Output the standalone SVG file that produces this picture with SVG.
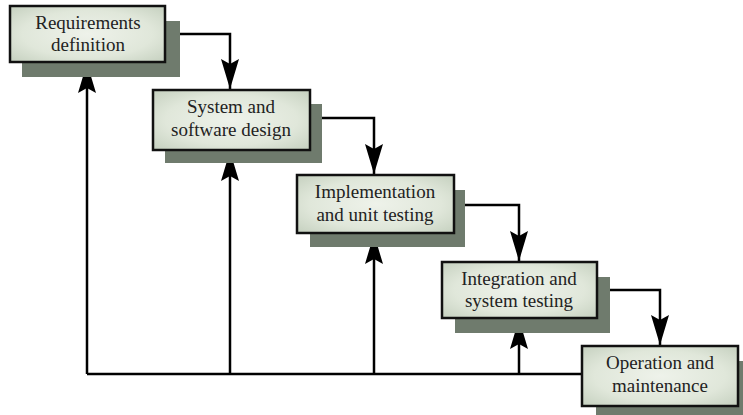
<svg xmlns="http://www.w3.org/2000/svg" width="743" height="415" viewBox="0 0 743 415">
<defs>
<radialGradient id="fillg" cx="0.5" cy="0.5" r="0.7">
<stop offset="0" stop-color="#eef2ea"/>
<stop offset="0.6" stop-color="#e0e7da"/>
<stop offset="1" stop-color="#c5d0bf"/>
</radialGradient>
<marker id="ah" viewBox="0 0 30 18" refX="30" refY="9" markerWidth="30" markerHeight="18" markerUnits="userSpaceOnUse" orient="auto">
<path d="M0,0 L30,9 L0,18 L5,9 Z" fill="#000"/>
</marker>
<style>
.shadow{fill:#6f7b6d}
.box{fill:url(#fillg);stroke:#111;stroke-width:2.5}
.lbl{font-family:"Liberation Serif","Times New Roman",serif;font-size:19px;fill:#222;text-anchor:middle}
.conn{fill:none;stroke:#000;stroke-width:2.5}
</style>
</defs>
<rect width="743" height="415" fill="#fff"/>
<g id="connectors">
<path class="conn" d="M165,34 H230 V89" marker-end="url(#ah)"/>
<path class="conn" d="M310,118 H374 V174" marker-end="url(#ah)"/>
<path class="conn" d="M454,205 H519 V261" marker-end="url(#ah)"/>
<path class="conn" d="M597,290 H660 V345" marker-end="url(#ah)"/>
<path class="conn" d="M582,374 H87"/>
<path class="conn" d="M87,374 V63" marker-end="url(#ah)"/>
<path class="conn" d="M230,374 V151" marker-end="url(#ah)"/>
<path class="conn" d="M374,374 V234" marker-end="url(#ah)"/>
<path class="conn" d="M519,374 V319" marker-end="url(#ah)"/>
</g>
<g id="n1">
<rect class="shadow" x="22" y="21" width="158" height="56"/>
<rect class="box" x="10" y="6" width="155" height="56"/>
<text class="lbl" x="88" y="29">Requirements</text>
<text class="lbl" x="88" y="51">definition</text>
</g>
<g id="n2">
<rect class="shadow" x="165" y="104" width="157" height="59"/>
<rect class="box" x="153" y="90" width="157" height="60"/>
<text class="lbl" x="231" y="113">System and</text>
<text class="lbl" x="231" y="136">software design</text>
</g>
<g id="n3">
<rect class="shadow" x="310" y="190" width="155" height="57"/>
<rect class="box" x="297" y="175" width="157" height="58"/>
<text class="lbl" x="375" y="198">Implementation</text>
<text class="lbl" x="375" y="221">and unit testing</text>
</g>
<g id="n4">
<rect class="shadow" x="455" y="277" width="155" height="56"/>
<rect class="box" x="442" y="262" width="155" height="56"/>
<text class="lbl" x="519" y="285">Integration and</text>
<text class="lbl" x="519" y="307">system testing</text>
</g>
<g id="n5">
<rect class="shadow" x="596" y="361" width="160" height="60"/>
<rect class="box" x="582" y="346" width="156" height="60"/>
<text class="lbl" x="660" y="369">Operation and</text>
<text class="lbl" x="660" y="392">maintenance</text>
</g>
</svg>
